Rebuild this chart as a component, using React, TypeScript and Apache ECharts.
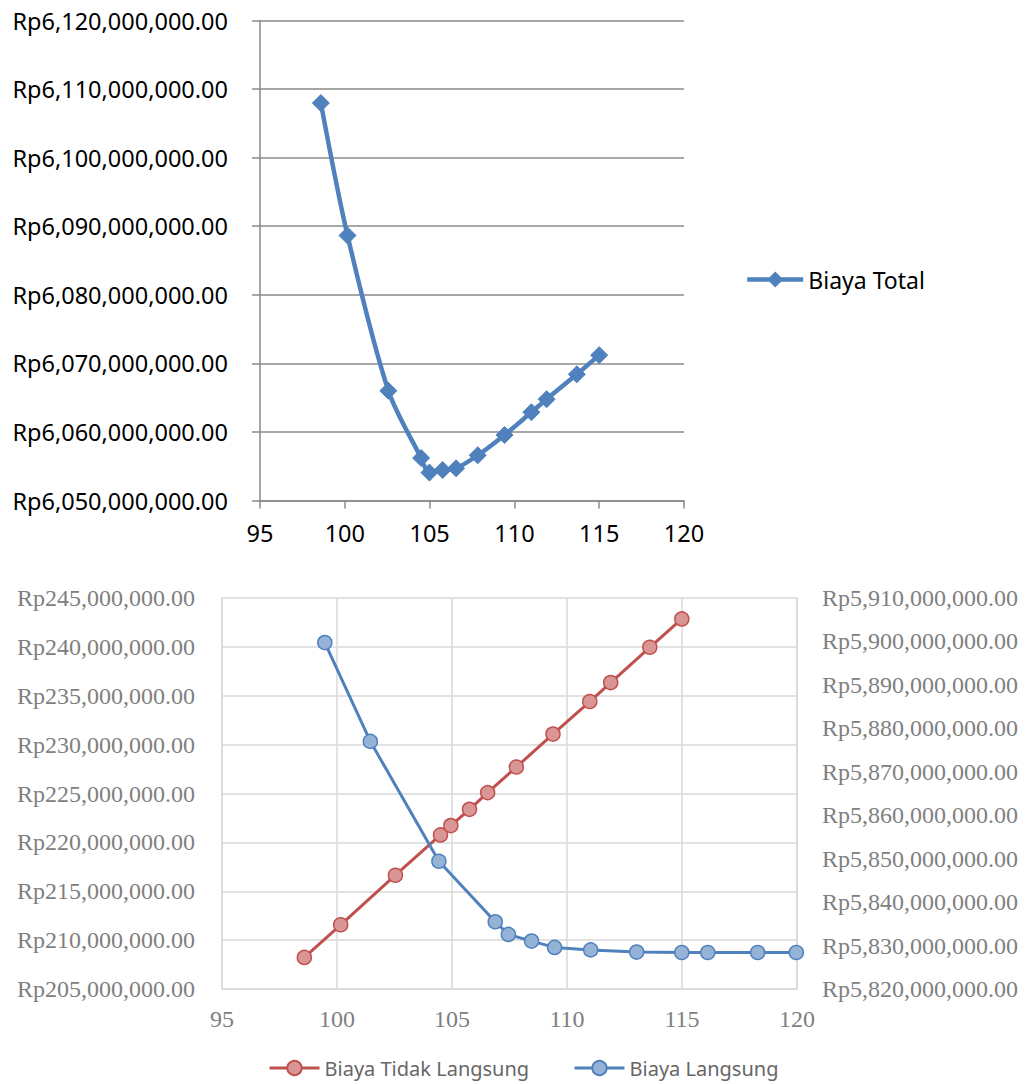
import React, { useEffect, useRef } from "react";
import * as echarts from "echarts";

// ---- Top chart: Biaya Total ----
const totalX = [98.59, 100.16, 102.57, 104.5, 104.99, 105.77, 106.56, 107.84, 109.42, 111.0, 111.9, 113.68, 115.0];
const biayaTotal = [
  6107960000, 6088650000, 6066000000, 6056200000, 6054070000, 6054450000, 6054700000,
  6056600000, 6059560000, 6062870000, 6064770000, 6068400000, 6071200000,
];

// ---- Bottom chart ----
const tidakLangsungX = [98.58, 100.16, 102.54, 104.5, 104.95, 105.76, 106.55, 107.8, 109.39, 110.99, 111.9, 113.6, 114.99];
const biayaTidakLangsung = [
  208230000, 211570000, 216640000, 220760000, 221720000, 223380000, 225090000,
  227710000, 231080000, 234410000, 236350000, 239960000, 242860000,
];
const langsungX = [99.47, 101.45, 104.43, 106.88, 107.45, 108.46, 109.46, 111.03, 113.03, 114.99, 116.12, 118.29, 119.97];
const biayaLangsung = [
  5899740000, 5876990000, 5849410000, 5835470000, 5832560000, 5831030000, 5829570000,
  5829000000, 5828500000, 5828400000, 5828400000, 5828400000, 5828400000,
];

const xTicks = { min: 95, max: 120, interval: 5 };
const topY = { min: 6050000000, max: 6120000000, interval: 10000000 };
const leftY = { min: 205000000, max: 245000000, interval: 5000000 };
const rightY = { min: 5820000000, max: 5910000000, interval: 10000000 };

const rp = (v: number) =>
  "Rp" + Math.round(v).toString().replace(/\B(?=(\d{3})+(?!\d))/g, ",") + ".00";

const pairs = (xs: number[], ys: number[]) => xs.map((x, i) => [x, ys[i]]);

export default function App() {
  const ref = useRef<HTMLDivElement>(null);
  useEffect(() => {
    if (!ref.current) return;
    const chart = echarts.init(ref.current, null, { renderer: "svg" });
    const sans = "Noto Sans";
    const serif = "Liberation Serif";
    const topGray = "#8a8a8a";
    const lightGray = "#d9d9d9";
    const blue = "#4f81bd";
    const red = "#c0504d";
    chart.setOption({
      animation: false,
      backgroundColor: "#ffffff",
      grid: [
        { left: 260, top: 20.5, width: 424, height: 480, containLabel: false },
        { left: 222, top: 598, width: 575, height: 391, containLabel: false },
      ],
      xAxis: [
        {
          type: "value",
          gridIndex: 0,
          ...xTicks,
          axisLine: { show: true, lineStyle: { color: topGray, width: 1.5 } },
          axisTick: { show: true, length: 8, lineStyle: { color: topGray, width: 1.5 } },
          splitLine: { show: false },
          axisLabel: { color: "#000", fontFamily: sans, fontSize: 23.5, margin: 20 },
        },
        {
          type: "value",
          gridIndex: 1,
          ...xTicks,
          axisLine: { show: true, lineStyle: { color: lightGray, width: 1.5 } },
          axisTick: { show: false },
          splitLine: { show: true, lineStyle: { color: lightGray, width: 1.5 } },
          axisLabel: { color: "#808080", fontFamily: serif, fontSize: 24, margin: 18 },
        },
      ],
      yAxis: [
        {
          type: "value",
          gridIndex: 0,
          ...topY,
          axisLine: { show: true, lineStyle: { color: topGray, width: 1.5 } },
          axisTick: { show: true, length: 8, lineStyle: { color: topGray, width: 1.5 } },
          splitLine: { show: true, lineStyle: { color: topGray, width: 1.5 } },
          axisLabel: { color: "#000", fontFamily: sans, fontSize: 23.5, margin: 32, formatter: rp },
        },
        {
          type: "value",
          gridIndex: 1,
          position: "left",
          ...leftY,
          axisLine: { show: true, lineStyle: { color: lightGray, width: 1.5 } },
          axisTick: { show: false },
          splitLine: { show: true, lineStyle: { color: lightGray, width: 1.5 } },
          axisLabel: { color: "#808080", fontFamily: serif, fontSize: 24, margin: 27, formatter: rp },
        },
        {
          type: "value",
          gridIndex: 1,
          position: "right",
          ...rightY,
          axisLine: { show: true, lineStyle: { color: lightGray, width: 1.5 } },
          axisTick: { show: false },
          splitLine: { show: false },
          axisLabel: { color: "#808080", fontFamily: serif, fontSize: 24, margin: 25, formatter: rp },
        },
      ],
      legend: [
        {
          data: ["Biaya Total"],
          left: 745,
          top: 268,
          padding: 0,
          itemWidth: 56,
          itemHeight: 20,
          itemGap: 0,
          lineStyle: { width: 4.5 },
          textStyle: { color: "#000", fontFamily: sans, fontSize: 23 },
        },
        {
          data: ["Biaya Tidak Langsung"],
          left: 268,
          top: 1058,
          padding: 0,
          itemWidth: 50,
          itemHeight: 18,
          lineStyle: { width: 3 },
          textStyle: { color: "#666", fontFamily: sans, fontSize: 20 },
        },
        {
          data: ["Biaya Langsung"],
          left: 573,
          top: 1058,
          padding: 0,
          itemWidth: 50,
          itemHeight: 18,
          lineStyle: { width: 3 },
          textStyle: { color: "#666", fontFamily: sans, fontSize: 20 },
        },
      ],
      series: [
        {
          name: "Biaya Total",
          type: "line",
          xAxisIndex: 0,
          yAxisIndex: 0,
          data: pairs(totalX, biayaTotal),
          smooth: 0.3,
          symbol: "diamond",
          symbolSize: 17,
          lineStyle: { color: blue, width: 4.5 },
          itemStyle: { color: blue, borderColor: blue },
        },
        {
          name: "Biaya Tidak Langsung",
          type: "line",
          xAxisIndex: 1,
          yAxisIndex: 1,
          data: pairs(tidakLangsungX, biayaTidakLangsung),
          symbol: "circle",
          symbolSize: 14,
          lineStyle: { color: red, width: 3 },
          itemStyle: { color: "#d99694", borderColor: red, borderWidth: 1.5 },
        },
        {
          name: "Biaya Langsung",
          type: "line",
          xAxisIndex: 1,
          yAxisIndex: 2,
          data: pairs(langsungX, biayaLangsung),
          symbol: "circle",
          symbolSize: 14,
          lineStyle: { color: blue, width: 3 },
          itemStyle: { color: "#95b3d7", borderColor: blue, borderWidth: 1.5 },
        },
      ],
    });
    return () => chart.dispose();
  }, []);
  return (
    <div
      ref={ref}
      style={{ position: "absolute", left: 0, top: 0, width: 1025, height: 1084 }}
    />
  );
}
